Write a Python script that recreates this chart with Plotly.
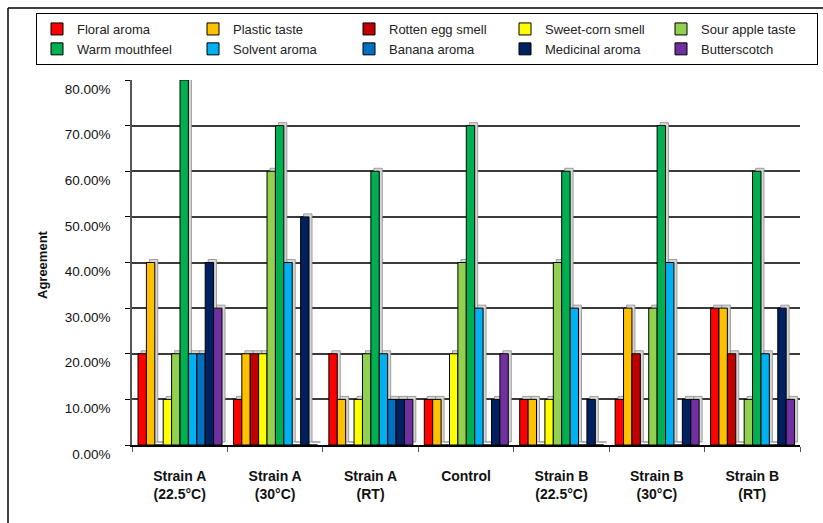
import plotly.graph_objects as go

# Sample groups (x categories)
categories = ["Strain A<br>(22.5°C)", "Strain A<br>(30°C)", "Strain A<br>(RT)", "Control",
              "Strain B<br>(22.5°C)", "Strain B<br>(30°C)", "Strain B<br>(RT)"]

# Sensory attributes and their agreement fractions per group
attributes = ["Floral aroma", "Plastic taste", "Rotten egg smell", "Sweet-corn smell",
              "Sour apple taste", "Warm mouthfeel", "Solvent aroma", "Banana aroma",
              "Medicinal aroma", "Butterscotch"]

floral_aroma     = [0.20, 0.10, 0.20, 0.10, 0.10, 0.10, 0.30]
plastic_taste    = [0.40, 0.20, 0.10, 0.10, 0.10, 0.30, 0.30]
rotten_egg_smell = [0.00, 0.20, 0.00, 0.00, 0.00, 0.20, 0.20]
sweet_corn_smell = [0.10, 0.20, 0.10, 0.20, 0.10, 0.00, 0.00]
sour_apple_taste = [0.20, 0.60, 0.20, 0.40, 0.40, 0.30, 0.10]
warm_mouthfeel   = [0.80, 0.70, 0.60, 0.70, 0.60, 0.70, 0.60]
solvent_aroma    = [0.20, 0.40, 0.20, 0.30, 0.30, 0.40, 0.20]
banana_aroma     = [0.20, 0.00, 0.10, 0.00, 0.00, 0.00, 0.00]
medicinal_aroma  = [0.40, 0.50, 0.10, 0.10, 0.10, 0.10, 0.30]
butterscotch     = [0.30, 0.00, 0.10, 0.20, 0.00, 0.10, 0.10]

series = [floral_aroma, plastic_taste, rotten_egg_smell, sweet_corn_smell, sour_apple_taste,
          warm_mouthfeel, solvent_aroma, banana_aroma, medicinal_aroma, butterscotch]

colors = ["#FF0000", "#FFC000", "#C00000", "#FFFF00", "#92D050",
          "#00B050", "#00B0F0", "#0070C0", "#002060", "#7030A0"]

y_ticks = [0.0, 0.1, 0.2, 0.3, 0.4, 0.5, 0.6, 0.7, 0.8]

# Layout geometry (pixels)
W, H = 823, 523
L, R, T, B = 132, 23, 80, 78
plot_w = W - L - R
plot_h = H - T - B
cat_px = plot_w / len(categories)

bar_w = 8.4 / cat_px           # bar width in category units
start = -0.5 + 6 / cat_px      # left edge of first bar in a group
depth_x = 3 / cat_px           # pseudo-3D depth offset
depth_y = 3 / plot_h * 0.8     # same depth in value units

fig = go.Figure()

for i, (name, vals, col) in enumerate(zip(attributes, series, colors)):
    off = start + i * bar_w
    # shaded side/top faces behind each bar
    fig.add_trace(go.Bar(
        x=categories, y=vals, base=depth_y, offset=off + depth_x, width=bar_w,
        marker=dict(color="#D6D6D6", line=dict(color="#8A8A8A", width=0.8)),
        showlegend=False, hoverinfo="skip"))
    fig.add_trace(go.Bar(
        x=categories, y=vals, offset=off, width=bar_w, name=name,
        marker=dict(color=col, line=dict(color="#000000", width=1))))

fig.update_layout(
    width=W, height=H,
    margin=dict(l=L, r=R, t=T, b=B),
    barmode="overlay",
    paper_bgcolor="white", plot_bgcolor="white",
    font=dict(family="Arial, Liberation Sans, sans-serif", color="#111111"),
    legend=dict(
        orientation="h", x=(36 - L) / plot_w, xanchor="left",
        y=(H - B - 13) / plot_h, yanchor="top",
        entrywidth=111, entrywidthmode="pixels",
        bordercolor="#000000", borderwidth=1,
        font=dict(size=13, color="#222222"),
        bgcolor="white", traceorder="normal", itemclick=False,
    ),
    xaxis=dict(
        type="category", range=[-0.5, len(categories) - 0.5],
        showline=True, linecolor="#000000", linewidth=1.5,
        ticks="outside", tickson="boundaries", ticklen=5, tickcolor="#555555",
        tickfont=dict(size=14, color="#111111"),
        tickprefix="<b>", ticksuffix="</b>",
        ticklabelstandoff=17, showgrid=False,
    ),
    yaxis=dict(
        range=[0, 0.8], tickvals=y_ticks, tickformat=".2%",
        showline=True, linecolor="#555555", linewidth=1.5,
        ticks="outside", ticklen=5, tickcolor="#000000",
        tickfont=dict(size=13.5, color="#111111"),
        tickprefix="<b>", ticksuffix="</b>",
        ticklabelstandoff=12, ticklabelshift=9,
        showgrid=True, gridcolor="#3A3A3A", gridwidth=1.5,
        zeroline=False,
    ),
)

# y axis title
fig.add_annotation(
    text="<b>Agreement</b>", textangle=-90, showarrow=False,
    xref="paper", yref="paper", x=(42 - L) / plot_w, y=(H - B - 265) / plot_h,
    xanchor="center", yanchor="middle", font=dict(size=13, color="#111111"))

# chart-area frame (top and left edges)
fx = (8 - L) / plot_w
fy = (H - B - 8) / plot_h
fig.add_shape(type="line", xref="paper", yref="paper", x0=fx, x1=1.2, y0=fy, y1=fy,
              line=dict(color="#000000", width=1.5))
fig.add_shape(type="line", xref="paper", yref="paper", x0=fx, x1=fx, y0=fy, y1=-0.3,
              line=dict(color="#000000", width=1.5))

fig.write_html("out.html")
